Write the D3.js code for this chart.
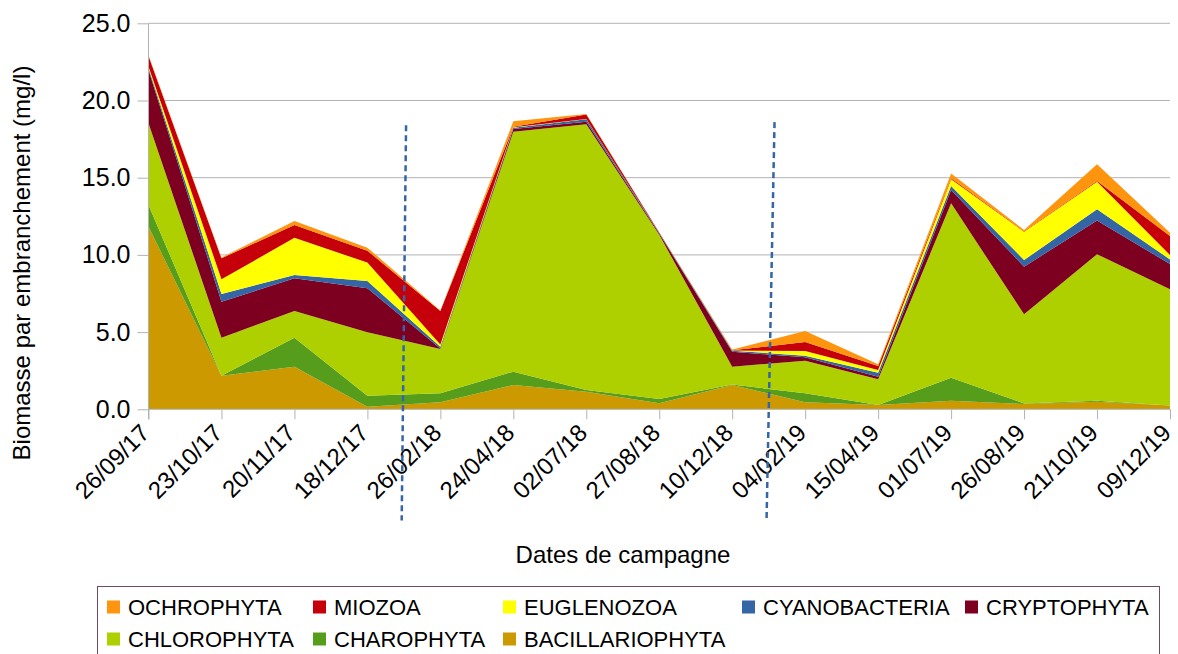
<!DOCTYPE html>
<html>
<head>
<meta charset="utf-8">
<script src="https://cdn.jsdelivr.net/npm/d3@7"></script>
<style>
  body { margin: 0; background: #fff; }
  svg { font-family: "Liberation Sans", Arial, sans-serif; display: block; }
</style>
</head>
<body>
<div class="svg-container"></div>
<script>
'use strict';

// campaign dates (x categories)
var dates = ["26/09/17", "23/10/17", "20/11/17", "18/12/17", "26/02/18", "24/04/18", "02/07/18",
  "27/08/18", "10/12/18", "04/02/19", "15/04/19", "01/07/19", "26/08/19", "21/10/19", "09/12/19"];

// biomass per phylum (mg/l)
var bacillariophyta = [11.83, 2.18, 2.76, 0.17, 0.45, 1.57, 1.14, 0.39, 1.57, 0.45, 0.28, 0.56, 0.34, 0.49, 0.24];
var charophyta      = [1.40, 0.00, 1.88, 0.71, 0.59, 0.87, 0.11, 0.28, 0.03, 0.59, 0.00, 1.49, 0.04, 0.06, 0.01];
var chlorophyta     = [5.29, 2.46, 1.73, 4.11, 2.87, 15.54, 17.21, 10.63, 1.16, 2.11, 1.66, 11.29, 5.77, 9.49, 7.52];
var cryptophyta     = [3.46, 2.33, 2.11, 2.85, 0.02, 0.17, 0.17, 0.08, 0.97, 0.22, 0.17, 0.86, 3.09, 2.18, 1.64];
var cyanobacteria   = [0.12, 0.50, 0.22, 0.47, 0.12, 0.09, 0.15, 0.05, 0.07, 0.10, 0.26, 0.26, 0.43, 0.73, 0.30];
var euglenozoa      = [0.10, 0.95, 2.41, 1.19, 0.15, 0.03, 0.02, 0.01, 0.01, 0.31, 0.18, 0.44, 1.83, 1.79, 0.28];
var miozoa          = [0.68, 1.36, 0.83, 0.77, 2.17, 0.03, 0.30, 0.01, 0.01, 0.58, 0.25, 0.07, 0.03, 0.04, 1.23];
var ochrophyta      = [0.05, 0.05, 0.26, 0.20, 0.03, 0.35, 0.02, 0.01, 0.06, 0.71, 0.11, 0.31, 0.08, 1.09, 0.22];

// stacking order, bottom to top
var seriesNames = ["BACILLARIOPHYTA", "CHAROPHYTA", "CHLOROPHYTA", "CRYPTOPHYTA",
  "CYANOBACTERIA", "EUGLENOZOA", "MIOZOA", "OCHROPHYTA"];
var seriesValues = [bacillariophyta, charophyta, chlorophyta, cryptophyta,
  cyanobacteria, euglenozoa, miozoa, ochrophyta];
var seriesColors = ["#cc9900", "#579d1c", "#aecf00", "#7e0021",
  "#3465a4", "#ffff00", "#c5000b", "#ff950e"];

// legend order as shown in the reference
var legendOrder = ["OCHROPHYTA", "MIOZOA", "EUGLENOZOA", "CYANOBACTERIA", "CRYPTOPHYTA",
  "CHLOROPHYTA", "CHAROPHYTA", "BACILLARIOPHYTA"];

var yTicks = [0, 5, 10, 15, 20, 25];

// dotted separators: [x index at top, x index at bottom, top value, bottom value]
var separators = [[3.53, 3.47, 18.4, -7.2], [8.58, 8.47, 18.6, -7.3]];

(function() {
  var svgWidth = 1178, svgHeight = 654;
  var pLeft = 148.5, pRight = 1170, pTop = 23.3, pBottom = 409.3;

  var svg = d3.select(".svg-container").append("svg")
    .attr("width", svgWidth)
    .attr("height", svgHeight);

  var x = d3.scalePoint().domain(dates).range([pLeft, pRight]);
  var xi = d3.scaleLinear().domain([0, dates.length - 1]).range([pLeft, pRight]);
  var y = d3.scaleLinear().domain([0, 25]).range([pBottom, pTop]);

  var table = dates.map(function(d, i) {
    var row = {date: d};
    seriesNames.forEach(function(name, k) { row[name] = seriesValues[k][i]; });
    return row;
  });

  var stacked = d3.stack().keys(seriesNames)(table);

  // grid
  svg.append("g").selectAll("line").data(yTicks.slice(1)).enter().append("line")
    .attr("x1", pLeft).attr("x2", pRight)
    .attr("y1", function(d) { return y(d); })
    .attr("y2", function(d) { return y(d); })
    .attr("stroke", "#b3b3b3").attr("stroke-width", 1);

  // areas
  var area = d3.area()
    .x(function(d) { return x(d.data.date); })
    .y0(function(d) { return y(d[0]); })
    .y1(function(d) { return y(d[1]); });

  svg.append("g").selectAll("path").data(stacked).enter().append("path")
    .attr("d", area)
    .attr("fill", function(d, i) { return seriesColors[i]; });

  // axes
  var yAxis = svg.append("g").attr("transform", "translate(" + pLeft + ",0)")
    .call(d3.axisLeft(y).tickValues(yTicks).tickSize(11).tickPadding(7)
      .tickFormat(d3.format(".1f")));
  yAxis.select(".domain").attr("stroke", "#b3b3b3").attr("d", "M0," + pTop + "V" + (pBottom + 10));
  yAxis.selectAll(".tick line").attr("stroke", "#b3b3b3");
  yAxis.selectAll(".tick text").attr("font-size", 25).attr("fill", "#000")
    .attr("font-family", "Liberation Sans, Arial, sans-serif");

  var xAxis = svg.append("g").attr("transform", "translate(0," + pBottom + ")")
    .call(d3.axisBottom(x).tickSize(10).tickPadding(0));
  xAxis.select(".domain").attr("stroke", "#b3b3b3").attr("d", "M" + pLeft + ",0H" + pRight);
  xAxis.selectAll(".tick line").attr("stroke", "#b3b3b3");
  xAxis.selectAll(".tick text")
    .attr("font-size", 24).attr("fill", "#000")
    .attr("font-family", "Liberation Sans, Arial, sans-serif")
    .attr("text-anchor", "end")
    .attr("dy", 0).attr("y", 0)
    .attr("transform", "translate(2,25) rotate(-45)");

  // dotted separators
  svg.append("g").selectAll("line").data(separators).enter().append("line")
    .attr("x1", function(d) { return xi(d[0]); })
    .attr("x2", function(d) { return xi(d[1]); })
    .attr("y1", function(d) { return y(d[2]); })
    .attr("y2", function(d) { return y(d[3]); })
    .attr("stroke", "#3465a4").attr("stroke-width", 2.5)
    .attr("stroke-dasharray", "6,4");

  // axis titles
  svg.append("text")
    .attr("transform", "translate(30,263) rotate(-90)")
    .attr("text-anchor", "middle")
    .attr("font-size", 24)
    .text("Biomasse par embranchement (mg/l)");

  svg.append("text")
    .attr("x", 623).attr("y", 563)
    .attr("text-anchor", "middle")
    .attr("font-size", 24)
    .text("Dates de campagne");

  // legend
  svg.append("rect")
    .attr("x", 97.5).attr("y", 586.5)
    .attr("width", 1062).attr("height", 80)
    .attr("fill", "none").attr("stroke", "#6b4c64").attr("stroke-width", 1);

  var legendX = [107, 313, 503, 742, 965];
  var legendY = [607, 639];

  var items = svg.append("g").selectAll("g").data(legendOrder).enter().append("g")
    .attr("transform", function(d, i) {
      return "translate(" + legendX[i % 5] + "," + legendY[Math.floor(i / 5)] + ")";
    });
  items.append("rect")
    .attr("x", 0).attr("y", -6.5).attr("width", 13).attr("height", 13)
    .attr("fill", function(d) { return seriesColors[seriesNames.indexOf(d)]; });
  items.append("text")
    .attr("x", 21).attr("y", 8)
    .attr("font-size", 22)
    .text(function(d) { return d; });
})();
</script>
</body>
</html>
